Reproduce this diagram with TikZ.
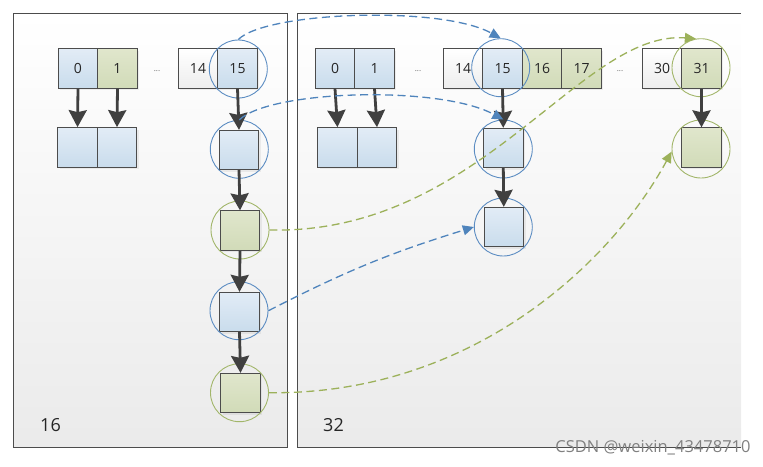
\documentclass[tikz,border=0pt]{standalone}
\usepackage{fontspec}
\setmainfont{Open Sans}
\usetikzlibrary{arrows.meta, shadows}

\definecolor{blueTop}{HTML}{E2ECF6}
\definecolor{blueBot}{HTML}{C9DCEC}
\definecolor{greenTop}{HTML}{E0E6CC}
\definecolor{greenBot}{HTML}{D1DBB8}
\definecolor{ringBlue}{HTML}{5B8CC2}
\definecolor{ringGreen}{HTML}{A2B66A}
\definecolor{hopBlue}{HTML}{4F84BC}
\definecolor{hopGreen}{HTML}{9CB15A}

\begin{document}
\begin{tikzpicture}[x=1pt, y=-1pt,
    cell/.style={draw=black!70, line width=0.8pt, minimum width=39.5pt,
        minimum height=39.5pt, inner sep=0pt, text=black!85,
        font=\fontsize{14}{16}\selectfont,
        drop shadow={opacity=0.12, shadow xshift=2pt, shadow yshift=-2pt}},
    bluecell/.style={cell, top color=blueTop, bottom color=blueBot},
    greencell/.style={cell, top color=greenTop, bottom color=greenBot},
    whitecell/.style={cell, top color=white, bottom color=black!7},
    ring/.style={circle, draw=#1, line width=0.9pt, minimum size=58pt, inner sep=0pt},
    link/.style={draw=black!75, line width=2.8pt,
        -{Triangle[length=17pt,width=18pt,inset=2pt]}},
    hop/.style={draw=#1, line width=1.3pt, dash pattern=on 8pt off 4.5pt,
        -{Triangle[length=11pt,width=10pt]}},
    dots/.style={text=black!60, font=\fontsize{8}{9}\selectfont},
    size/.style={text=black!85, font=\fontsize{18}{20}\selectfont}
]

    \useasboundingbox (0,0) rectangle (763,466);

    % --- Panels ---
    \shade[top color=white, bottom color=black!8] (13,13) rectangle (287,447);
    \draw[black!70, line width=1pt] (13,13) rectangle (287,447);
    \shade[top color=white, bottom color=black!8] (297,13) rectangle (741,447);
    \draw[black!70, line width=1pt] (741,13) -- (297,13) -- (297,447) -- (741,447);

    \node[size] (size16) at (50.5,425) {16};
    \node[size] (size32) at (333.5,425) {32};

    % --- Old table (16 buckets) ---
    \node[bluecell]  (old0)  at (78,68.5)   {0};
    \node[greencell] (old1)  at (117.5,68.5) {1};
    \node[dots]      (oldd)  at (157,71)    {...};
    \node[whitecell] (old14) at (198,68.5)  {14};
    \node[bluecell]  (old15) at (237.5,68.5) {15};

    \node[bluecell] (oldA) at (77.5,147.3)  {};
    \node[bluecell] (oldB) at (117,147.3)   {};

    % chain hanging from bucket 15
    \node[bluecell]  (a1) at (239,150)     {};
    \node[greencell] (a2) at (240,230.5)   {};
    \node[bluecell]  (a3) at (239.5,312)   {};
    \node[greencell] (a4) at (240.5,393)   {};

    % --- New table (32 buckets) ---
    \node[bluecell]  (new0)  at (335,68.5)   {0};
    \node[bluecell]  (new1)  at (374.5,68.5) {1};
    \node[dots]      (newd1) at (418,71)     {...};
    \node[whitecell] (new14) at (463,68.5)   {14};
    \node[bluecell]  (new15) at (502.5,68.5) {15};
    \node[greencell] (new16) at (542,68.5)   {16};
    \node[greencell] (new17) at (581.5,68.5) {17};
    \node[dots]      (newd2) at (620,71)     {...};
    \node[whitecell] (new30) at (662,68.5)   {30};
    \node[greencell] (new31) at (701.5,68.5) {31};

    \node[bluecell] (newA) at (337.5,147.3) {};
    \node[bluecell] (newB) at (377,147.3)   {};

    \node[bluecell]  (b1) at (503.3,148)   {};
    \node[bluecell]  (b2) at (503.8,227)   {};
    \node[greencell] (c1) at (701.5,147.5) {};

    % --- Rings ---
    \node[ring=ringBlue]  (rold15) at (238.3,69)   {};
    \node[ring=ringBlue]  (ra1)    at (239.3,149.3) {};
    \node[ring=ringGreen] (ra2)    at (240,230)    {};
    \node[ring=ringBlue]  (ra3)    at (239,310.7)  {};
    \node[ring=ringGreen] (ra4)    at (239.5,392.7) {};
    \node[ring=ringBlue]  (rnew15) at (500.7,67.7) {};
    \node[ring=ringGreen] (rnew31) at (701,67.7)   {};
    \node[ring=ringBlue]  (rb1)    at (503.3,149)  {};
    \node[ring=ringBlue]  (rb2)    at (503.3,227)  {};
    \node[ring=ringGreen] (rc1)    at (701,149)    {};

    % --- Links ---
    \draw[link] (old0.south) -- (oldA.north);
    \draw[link] (old1.south) -- (oldB.north);
    \draw[link] (old15.south) -- (a1.north);
    \draw[link] (a1.south) -- (a2.north);
    \draw[link] (a2.south) -- (a3.north);
    \draw[link] (a3.south) -- (a4.north);

    \draw[link] (new0.south) -- (newA.north);
    \draw[link] (new1.south) -- (newB.north);
    \draw[link] (new15.south) -- (b1.north);
    \draw[link] (b1.south) -- (b2.north);
    \draw[link] (new31.south) -- (c1.north);

    % --- Moves after resize ---
    \draw[hop=hopBlue] (rold15.north) .. controls (265,12) and (440,5) .. (rnew15.north);
    \draw[hop=hopBlue] (ra1.north) .. controls (270,90) and (440,85) .. (rb1.north);
    \draw[hop=hopGreen] (ra2.east) .. controls (480,235) and (580,30) .. (rnew31.100);
    \draw[hop=hopBlue] (ra3.east) to[bend left=5] (rb2.west);
    \draw[hop=hopGreen] (ra4.east) .. controls (470,395) and (610,265) .. (rc1.185);

    \node[text=black!50, font=\fontsize{16.5}{18}\selectfont] (mark) at (653,448) {CSDN @weixin\_43478710};

\end{tikzpicture}
\end{document}
